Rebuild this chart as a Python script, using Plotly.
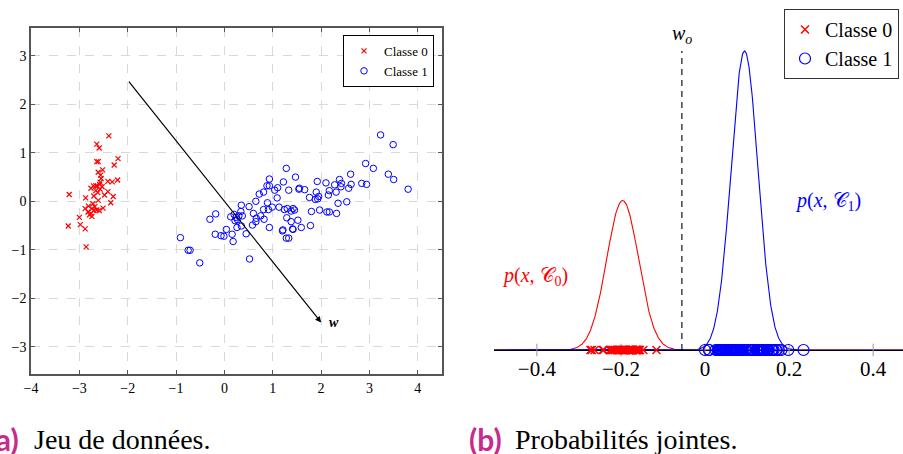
import numpy as np
import plotly.graph_objects as go

# ---------------- data ----------------
class0_x = [-2.39, -2.64, -2.59, -2.64, -2.61, -2.20, -2.28, -2.52, -2.61, -2.56, -2.55, -2.41,
            -2.32, -2.21, -2.57, -2.71, -2.66, -2.63, -2.76, -2.57, -2.62, -2.41, -3.21, -2.87,
            -2.70, -2.48, -2.30, -2.61, -2.35, -2.81, -2.88, -2.68, -2.74, -2.64, -2.51, -2.82,
            -2.76, -2.70, -2.74, -2.59, -3.00, -2.98, -3.23, -2.88, -2.86, -2.66, -2.58, -2.72,
            -2.53, -2.79]
class0_y = [1.35, 1.18, 1.10, 0.82, 0.82, 0.88, 0.75, 0.65, 0.60, 0.54, 0.47, 0.41,
            0.40, 0.44, 0.39, 0.32, 0.32, 0.31, 0.27, 0.25, 0.18, 0.20, 0.14, 0.07,
            0.11, 0.13, 0.10, 0.02, -0.03, -0.10, -0.15, -0.11, -0.15, -0.18, -0.14, -0.22,
            -0.25, -0.19, -0.31, -0.19, -0.33, -0.48, -0.51, -0.57, -0.94, 0.22, 0.35, -0.05,
            0.30, -0.28]

class1_x = [-0.91, -0.75, -0.71, -0.51, -0.30, -0.18, -0.19, -0.07, -0.01, 0.04, 0.16, 0.18,
            0.13, 0.20, 0.24, 0.27, 0.30, 0.22, 0.34, 0.35, 0.37, 0.26, 0.35, 0.45,
            0.51, 0.52, 0.58, 0.65, 0.66, 0.65, 0.72, 0.81, 0.82, 0.89, 0.81, 0.91,
            0.93, 0.88, 0.93, 0.93, 0.99, 1.04, 1.10, 1.09, 1.13, 1.21, 1.22, 1.28,
            1.33, 1.28, 1.33, 1.29, 1.38, 1.42, 1.24, 1.30, 1.38, 1.45, 1.47, 1.54,
            1.52, 1.66, 1.92, 1.76, 1.88, 1.90, 1.95, 1.93, 2.10, 2.17, 2.28, 2.15,
            2.31, 2.38, 2.42, 2.41, 2.57, 2.61, 2.62, 2.35, 2.53, 2.32, 2.12, 2.17,
            1.97, 1.80, 1.78, 1.59, 1.41, 1.20, 2.92, 3.08, 2.84, 2.94, 3.23, 3.49,
            3.39, 3.50, 3.80, 1.42, 0.60, 0.75, 1.55]
class1_y = [-0.75, -1.01, -1.01, -1.27, -0.37, -0.26, -0.68, -0.71, -0.72, -0.58, -0.68, -0.83,
            -0.32, -0.27, -0.33, -0.38, -0.30, -0.40, -0.21, -0.08, -0.30, -0.54, -0.51, -0.67,
            -0.11, -1.19, -0.49, -0.42, -0.35, 0.00, 0.15, 0.19, -0.37, -0.03, -0.17, -0.17,
            -0.54, 0.32, 0.32, 0.46, -0.12, 0.23, 0.28, 0.07, -0.12, -0.59, 0.40, 0.68,
            0.23, -0.76, -0.76, -0.34, -0.42, -0.58, -0.17, -0.15, -0.20, -0.18, 0.50, 0.25,
            -0.39, 0.24, 0.41, 0.08, 0.04, 0.19, 0.10, 0.05, 0.38, 0.22, 0.34, 0.13,
            0.19, 0.45, 0.37, 0.30, 0.27, 0.56, 0.35, -0.04, -0.01, -0.25, -0.22, -0.22,
            -0.18, -0.21, -0.50, -0.54, -0.57, -0.61, 0.78, 0.68, 0.37, 0.35, 1.37, 1.17,
            0.56, 0.45, 0.25, -0.15, -0.25, -0.30, 0.27]

arrow_start = [-2.0, 2.5]
arrow_end = [2.0, -2.5]
w_vec = [0.067, -0.081]          # projection vector (estimated)
w_o = -0.055                      # threshold
curve_mean = [-0.196, 0.094]
curve_sigma = [0.038, 0.032]
curve_peak = [1.0, 2.0]

left_xticks = [-4, -3, -2, -1, 0, 1, 2, 3, 4]
left_yticks = [-3, -2, -1, 0, 1, 2, 3]
right_xticks = [-0.4, -0.2, 0, 0.2, 0.4]
right_xticklabels = ["−0.4", "−0.2", "0", "0.2", "0.4"]

class_names = ["Classe 0", "Classe 1"]
captions = ["Jeu de données.", "Probabilités jointes."]

# ---------------- figure ----------------
W, H = 903, 454
SERIF = "Liberation Serif, Times New Roman, Tinos, DejaVu Serif, serif"
RED, BLUE = "#ff0000", "#0000ff"

def fx(p):
    return p / W

def fy(p):
    return 1 - p / H

fig = go.Figure()

# left panel
fig.add_trace(go.Scatter(x=class0_x, y=class0_y, mode="markers", name=class_names[0],
                         marker=dict(symbol="x-thin-open", size=5, color=RED, line=dict(color=RED, width=1.2)),
                         xaxis="x", yaxis="y", legend="legend"))
fig.add_trace(go.Scatter(x=class1_x, y=class1_y, mode="markers", name=class_names[1],
                         marker=dict(symbol="circle-open", size=6.5, color=BLUE, line=dict(color=BLUE, width=1)),
                         xaxis="x", yaxis="y", legend="legend"))

fig.add_annotation(x=arrow_end[0], y=arrow_end[1], ax=arrow_start[0], ay=arrow_start[1],
                   xref="x", yref="y", axref="x", ayref="y", showarrow=True,
                   arrowhead=2, arrowsize=1, arrowwidth=1.2, arrowcolor="black", text="")
fig.add_annotation(x=arrow_end[0] + 0.12, y=arrow_end[1], xref="x", yref="y", text="<b><i>w</i></b>",
                   showarrow=False, xanchor="left", yanchor="middle",
                   font=dict(family=SERIF, size=14, color="black"))

# right panel
proj0 = np.array(class0_x) * w_vec[0] + np.array(class0_y) * w_vec[1]
proj1 = np.array(class1_x) * w_vec[0] + np.array(class1_y) * w_vec[1]
xs = np.linspace(-0.55, 0.55, 1101)
colors = [RED, BLUE]
for k in range(2):
    ys = curve_peak[k] * np.exp(-(xs - curve_mean[k]) ** 2 / (2 * curve_sigma[k] ** 2))
    fig.add_trace(go.Scatter(x=xs, y=ys, mode="lines", line=dict(color=colors[k], width=1.1),
                             xaxis="x2", yaxis="y2", showlegend=False, cliponaxis=False,
                             hoverinfo="skip"))

fig.add_trace(go.Scatter(x=[w_o, w_o], y=[0, curve_peak[1]], mode="lines",
                         line=dict(color="black", width=1.1, dash="6px,5px"),
                         xaxis="x2", yaxis="y2", showlegend=False, cliponaxis=False))

fig.add_trace(go.Scatter(x=right_xticks, y=[0] * len(right_xticks), mode="markers",
                         marker=dict(symbol="line-ns-open", size=9, color="#999999", line=dict(color="#999999", width=1)),
                         xaxis="x2", yaxis="y2", showlegend=False, cliponaxis=False, hoverinfo="skip"))

fig.add_trace(go.Scatter(x=proj0, y=np.zeros(len(proj0)), mode="markers", name=class_names[0],
                         marker=dict(symbol="x-thin-open", size=8, color=RED, line=dict(color=RED, width=1.5)),
                         xaxis="x2", yaxis="y2", legend="legend2", cliponaxis=False))
fig.add_trace(go.Scatter(x=proj1, y=np.zeros(len(proj1)), mode="markers", name=class_names[1],
                         marker=dict(symbol="circle-open", size=11, color=BLUE, line=dict(color=BLUE, width=1.2)),
                         xaxis="x2", yaxis="y2", legend="legend2", cliponaxis=False))

fig.add_annotation(x=w_o, y=curve_peak[1], xref="x2", yref="y2",
                   text="<i>w</i><sub><i>o</i></sub>", showarrow=False,
                   xanchor="center", yanchor="bottom", yshift=2,
                   font=dict(family=SERIF, size=20, color="black"))
fig.add_annotation(x=fx(535), y=fy(276), xref="paper", yref="paper",
                   text="<i>p</i>(<i>x</i>, 𝒞<sub>0</sub>)", showarrow=False,
                   xanchor="center", yanchor="middle", font=dict(family=SERIF, size=20, color=RED))
fig.add_annotation(x=fx(828), y=fy(201), xref="paper", yref="paper",
                   text="<i>p</i>(<i>x</i>, 𝒞<sub>1</sub>)", showarrow=False,
                   xanchor="center", yanchor="middle", font=dict(family=SERIF, size=20, color=BLUE))

# captions
MAG = "#c92a8c"
fig.add_annotation(x=fx(21), y=fy(439), xref="paper", yref="paper", text="<b>(a)</b>",
                   showarrow=False, xanchor="right", yanchor="middle",
                   font=dict(family="Lato", size=30, color=MAG))
fig.add_annotation(x=fx(32), y=fy(439), xref="paper", yref="paper", text=captions[0],
                   showarrow=False, xanchor="left", yanchor="middle",
                   font=dict(family=SERIF, size=28, color="black"))
fig.add_annotation(x=fx(467), y=fy(439), xref="paper", yref="paper", text="<b>(b)</b>",
                   showarrow=False, xanchor="left", yanchor="middle",
                   font=dict(family="Lato", size=30, color=MAG))
fig.add_annotation(x=fx(513), y=fy(439), xref="paper", yref="paper", text=captions[1],
                   showarrow=False, xanchor="left", yanchor="middle",
                   font=dict(family=SERIF, size=28, color="black"))

axis_common = dict(showline=True, linecolor="#555555", linewidth=1.5, mirror="ticks",
                   ticks="inside", ticklen=4, tickcolor="#555555", tickwidth=1,
                   showgrid=True, gridcolor="#d9d9d9", griddash="dash", gridwidth=1,
                   zeroline=False, automargin=False,
                   tickfont=dict(family=SERIF, size=14, color="black"))

fig.update_layout(
    width=W, height=H, margin=dict(l=0, r=0, t=0, b=0, autoexpand=False),
    paper_bgcolor="white", plot_bgcolor="white",
    showlegend=True,
    xaxis=dict(domain=[fx(31), fx(442)], range=[-4, 4.5], anchor="y",
               tickvals=left_xticks, **axis_common),
    yaxis=dict(domain=[fy(374), fy(28)], range=[-3.564, 3.577], anchor="x",
               tickvals=left_yticks, **axis_common),
    xaxis2=dict(domain=[fx(494), 1.0], range=[-0.502, 0.471], anchor="y2",
                showline=True, linecolor="black", linewidth=1, showgrid=False, zeroline=False,
                layer="below traces",
                ticks="", tickvals=right_xticks, ticktext=right_xticklabels,
                ticklabelstandoff=0, automargin=False,
                tickfont=dict(family=SERIF, size=21, color="black")),
    yaxis2=dict(domain=[fy(350), fy(20)], range=[0, (350 - 20) / 149.5], anchor="x2",
                visible=False),
    legend=dict(x=fx(434), y=fy(35), xanchor="right", yanchor="top",
                bgcolor="white", bordercolor="black", borderwidth=1,
                font=dict(family=SERIF, size=13, color="black"), tracegroupgap=0,
                itemwidth=30),
    legend2=dict(x=fx(784), y=fy(9), xanchor="left", yanchor="top",
                 bgcolor="white", bordercolor="#333333", borderwidth=1,
                 font=dict(family=SERIF, size=20, color="black"), tracegroupgap=0,
                 itemwidth=30),
)

fig.write_html("out.html", config={"displayModeBar": False},
               post_script="document.body.style.margin='0';document.body.style.overflow='hidden';")
